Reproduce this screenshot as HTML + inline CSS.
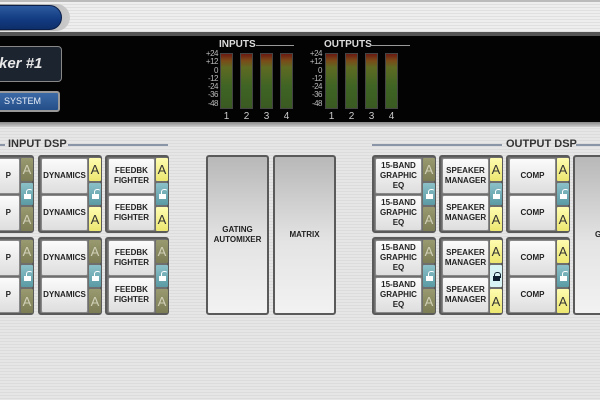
<!DOCTYPE html>
<html><head><meta charset="utf-8"><style>
*{margin:0;padding:0;box-sizing:border-box}
body{width:600px;height:400px;overflow:hidden;position:relative;font-family:"Liberation Sans",Arial,sans-serif;background:repeating-linear-gradient(180deg,#e6e6e6 0,#e6e6e6 2px,#dcdcdc 2px,#dcdcdc 3px)}
.a{position:absolute}
.grp{position:absolute;width:64px;height:78px;border:2px solid #5a5a5a;border-radius:3px;background:#6e6e6e}
.b{position:absolute;left:1px;width:47px;height:36px;background:linear-gradient(#fbfbfb,#dedede);border:1px solid #888;border-radius:2px;display:flex;align-items:center;justify-content:center;text-align:center;font-size:8px;font-weight:bold;color:#222;line-height:10px}
.b1{top:1px}.b2{top:38px;height:36px}
.pr{justify-content:flex-end;padding-right:8px}
.x{position:absolute;left:49px;width:12px;display:flex;align-items:center;justify-content:center;font-size:13px;border-radius:1px}
.x1{top:1px;height:23px}.xl{top:26px;height:22px}.x2{top:50px;height:24px}
.y{background:linear-gradient(#fffcb0,#ece770);color:#333}
.o{background:linear-gradient(#9a9a70,#7c7c55);color:#d0d0b8}
.l{background:linear-gradient(#8cc0c8,#5a9aa4)}
.ld{background:#d8f4f4}
.lk{position:relative;width:7px;height:9px}
.lk:before{content:"";position:absolute;left:1px;top:0;width:5px;height:5px;border:1.5px solid #fff;border-bottom:none;border-radius:3px 3px 0 0;}
.l .lk:before{left:2px;top:-1px;border-right-color:transparent}
.lk:after{content:"";position:absolute;left:0;top:4px;width:7px;height:5px;background:#fff}
.ld .lk:before{border-color:#123}
.ld .lk:after{background:#123}
.big{position:absolute;border:2px solid #5a5a5a;border-radius:3px;background:linear-gradient(#b8b8b8,#e4e4e4 55%,#f2f2f2);display:flex;align-items:center;justify-content:center;text-align:center;font-size:8px;font-weight:bold;color:#222;line-height:10px}
.bar{position:absolute;top:53px;width:13px;height:56px;border:1px solid #444;background:linear-gradient(#6a1a10,#7a4a18 12%,#5e6a22 25%,#3f6424 60%,#3a5a22)}
.sc{position:absolute;top:50px;font-size:8px;line-height:8.3px;color:#bbb;text-align:right;width:16px;letter-spacing:-0.5px}
.n{position:absolute;top:111px;font-size:10px;color:#ccc;width:13px;text-align:center}
.h{position:absolute;font-size:10px;font-weight:bold;color:#ddd}
.hl{position:absolute;height:1px;background:#999}
.t{position:absolute;font-size:11px;font-weight:bold;color:#333}
.tl{position:absolute;height:2px;background:#8a96a8}
</style></head><body>
<div class="a" style="left:0;top:0;width:600px;height:33px;background:repeating-linear-gradient(180deg,#eee 0,#eee 2px,#e0e0e0 2px,#e0e0e0 3px);border-top:2px solid #bbb"></div>
<div class="a" style="left:-20px;top:4px;width:90px;height:27px;border-radius:14px;background:linear-gradient(90deg,#888,#ccc)"></div>
<div class="a" style="left:-20px;top:5px;width:82px;height:25px;border-radius:13px;background:linear-gradient(#2d5aa0,#123a80 60%,#0e2f6a);border:1px solid #0a1e48"></div>
<div class="a" style="left:0;top:32px;width:600px;height:4px;background:#555"></div>
<div class="a" style="left:0;top:36px;width:600px;height:86px;background:#030303"></div>
<div class="a" style="left:-10px;top:46px;width:72px;height:36px;border:1px solid #888;border-radius:4px;background:#1c2430;color:#e8e8e8;font-style:italic;font-weight:bold;font-size:15px;line-height:34px;padding-left:8px">ker #1</div>
<div class="a" style="left:-10px;top:91px;width:70px;height:21px;border:2px solid #999;border-radius:3px;background:linear-gradient(#3c6aa6,#244e88);color:#e8eef8;font-size:9px;line-height:17px;padding-left:12px">SYSTEM</div>
<div class="h" style="left:219px;top:39px">INPUTS</div><div class="hl" style="left:256px;top:45px;width:38px"></div>
<div class="h" style="left:324px;top:39px">OUTPUTS</div><div class="hl" style="left:370px;top:45px;width:40px"></div>
<div class="sc" style="left:202px">+24<br>+12<br>0<br>-12<br>-24<br>-36<br>-48</div>
<div class="sc" style="left:306px">+24<br>+12<br>0<br>-12<br>-24<br>-36<br>-48</div>
<div class="bar" style="left:220px"></div><div class="bar" style="left:240px"></div><div class="bar" style="left:260px"></div><div class="bar" style="left:280px"></div>
<div class="bar" style="left:325px"></div><div class="bar" style="left:345px"></div><div class="bar" style="left:365px"></div><div class="bar" style="left:385px"></div>
<div class="n" style="left:220px">1</div><div class="n" style="left:240px">2</div><div class="n" style="left:260px">3</div><div class="n" style="left:280px">4</div>
<div class="n" style="left:325px">1</div><div class="n" style="left:345px">2</div><div class="n" style="left:365px">3</div><div class="n" style="left:385px">4</div>
<div class="a" style="left:0;top:122px;width:600px;height:5px;background:linear-gradient(#888,#ccc)"></div>
<div class="tl" style="left:0;top:144px;width:5px"></div>
<div class="t" style="left:8px;top:138px">INPUT DSP</div>
<div class="tl" style="left:68px;top:144px;width:100px"></div>
<div class="tl" style="left:372px;top:144px;width:130px"></div>
<div class="t" style="left:506px;top:138px">OUTPUT DSP</div>
<div class="tl" style="left:576px;top:144px;width:24px"></div>
<div class="grp" style="left:-30px;top:155px"><div class="b b1 pr">P</div><div class="b b2 pr">P</div><div class="x x1 o">A</div><div class="x xl l"><div class="lk"></div></div><div class="x x2 o">A</div></div>
<div class="grp" style="left:-30px;top:237px"><div class="b b1 pr">P</div><div class="b b2 pr">P</div><div class="x x1 o">A</div><div class="x xl l"><div class="lk"></div></div><div class="x x2 o">A</div></div>
<div class="grp" style="left:38px;top:155px"><div class="b b1">DYNAMICS</div><div class="b b2">DYNAMICS</div><div class="x x1 y">A</div><div class="x xl l"><div class="lk"></div></div><div class="x x2 y">A</div></div>
<div class="grp" style="left:38px;top:237px"><div class="b b1">DYNAMICS</div><div class="b b2">DYNAMICS</div><div class="x x1 o">A</div><div class="x xl l"><div class="lk"></div></div><div class="x x2 o">A</div></div>
<div class="grp" style="left:105px;top:155px"><div class="b b1">FEEDBK<br>FIGHTER</div><div class="b b2">FEEDBK<br>FIGHTER</div><div class="x x1 y">A</div><div class="x xl l"><div class="lk"></div></div><div class="x x2 y">A</div></div>
<div class="grp" style="left:105px;top:237px"><div class="b b1">FEEDBK<br>FIGHTER</div><div class="b b2">FEEDBK<br>FIGHTER</div><div class="x x1 o">A</div><div class="x xl l"><div class="lk"></div></div><div class="x x2 o">A</div></div>
<div class="big" style="left:206px;top:155px;width:63px;height:160px">GATING<br>AUTOMIXER</div>
<div class="big" style="left:273px;top:155px;width:63px;height:160px">MATRIX</div>
<div class="grp" style="left:372px;top:155px"><div class="b b1">15-BAND<br>GRAPHIC<br>EQ</div><div class="b b2">15-BAND<br>GRAPHIC<br>EQ</div><div class="x x1 o">A</div><div class="x xl l"><div class="lk"></div></div><div class="x x2 o">A</div></div>
<div class="grp" style="left:372px;top:237px"><div class="b b1">15-BAND<br>GRAPHIC<br>EQ</div><div class="b b2">15-BAND<br>GRAPHIC<br>EQ</div><div class="x x1 o">A</div><div class="x xl l"><div class="lk"></div></div><div class="x x2 o">A</div></div>
<div class="grp" style="left:439px;top:155px"><div class="b b1">SPEAKER<br>MANAGER</div><div class="b b2">SPEAKER<br>MANAGER</div><div class="x x1 y">A</div><div class="x xl l"><div class="lk"></div></div><div class="x x2 y">A</div></div>
<div class="grp" style="left:439px;top:237px"><div class="b b1">SPEAKER<br>MANAGER</div><div class="b b2">SPEAKER<br>MANAGER</div><div class="x x1 y">A</div><div class="x xl ld"><div class="lk"></div></div><div class="x x2 y">A</div></div>
<div class="grp" style="left:506px;top:155px"><div class="b b1">COMP</div><div class="b b2">COMP</div><div class="x x1 y">A</div><div class="x xl l"><div class="lk"></div></div><div class="x x2 y">A</div></div>
<div class="grp" style="left:506px;top:237px"><div class="b b1">COMP</div><div class="b b2">COMP</div><div class="x x1 y">A</div><div class="x xl l"><div class="lk"></div></div><div class="x x2 y">A</div></div>
<div class="big" style="left:573px;top:155px;width:70px;height:160px;justify-content:flex-start;padding-left:20px">G</div>
</body></html>
